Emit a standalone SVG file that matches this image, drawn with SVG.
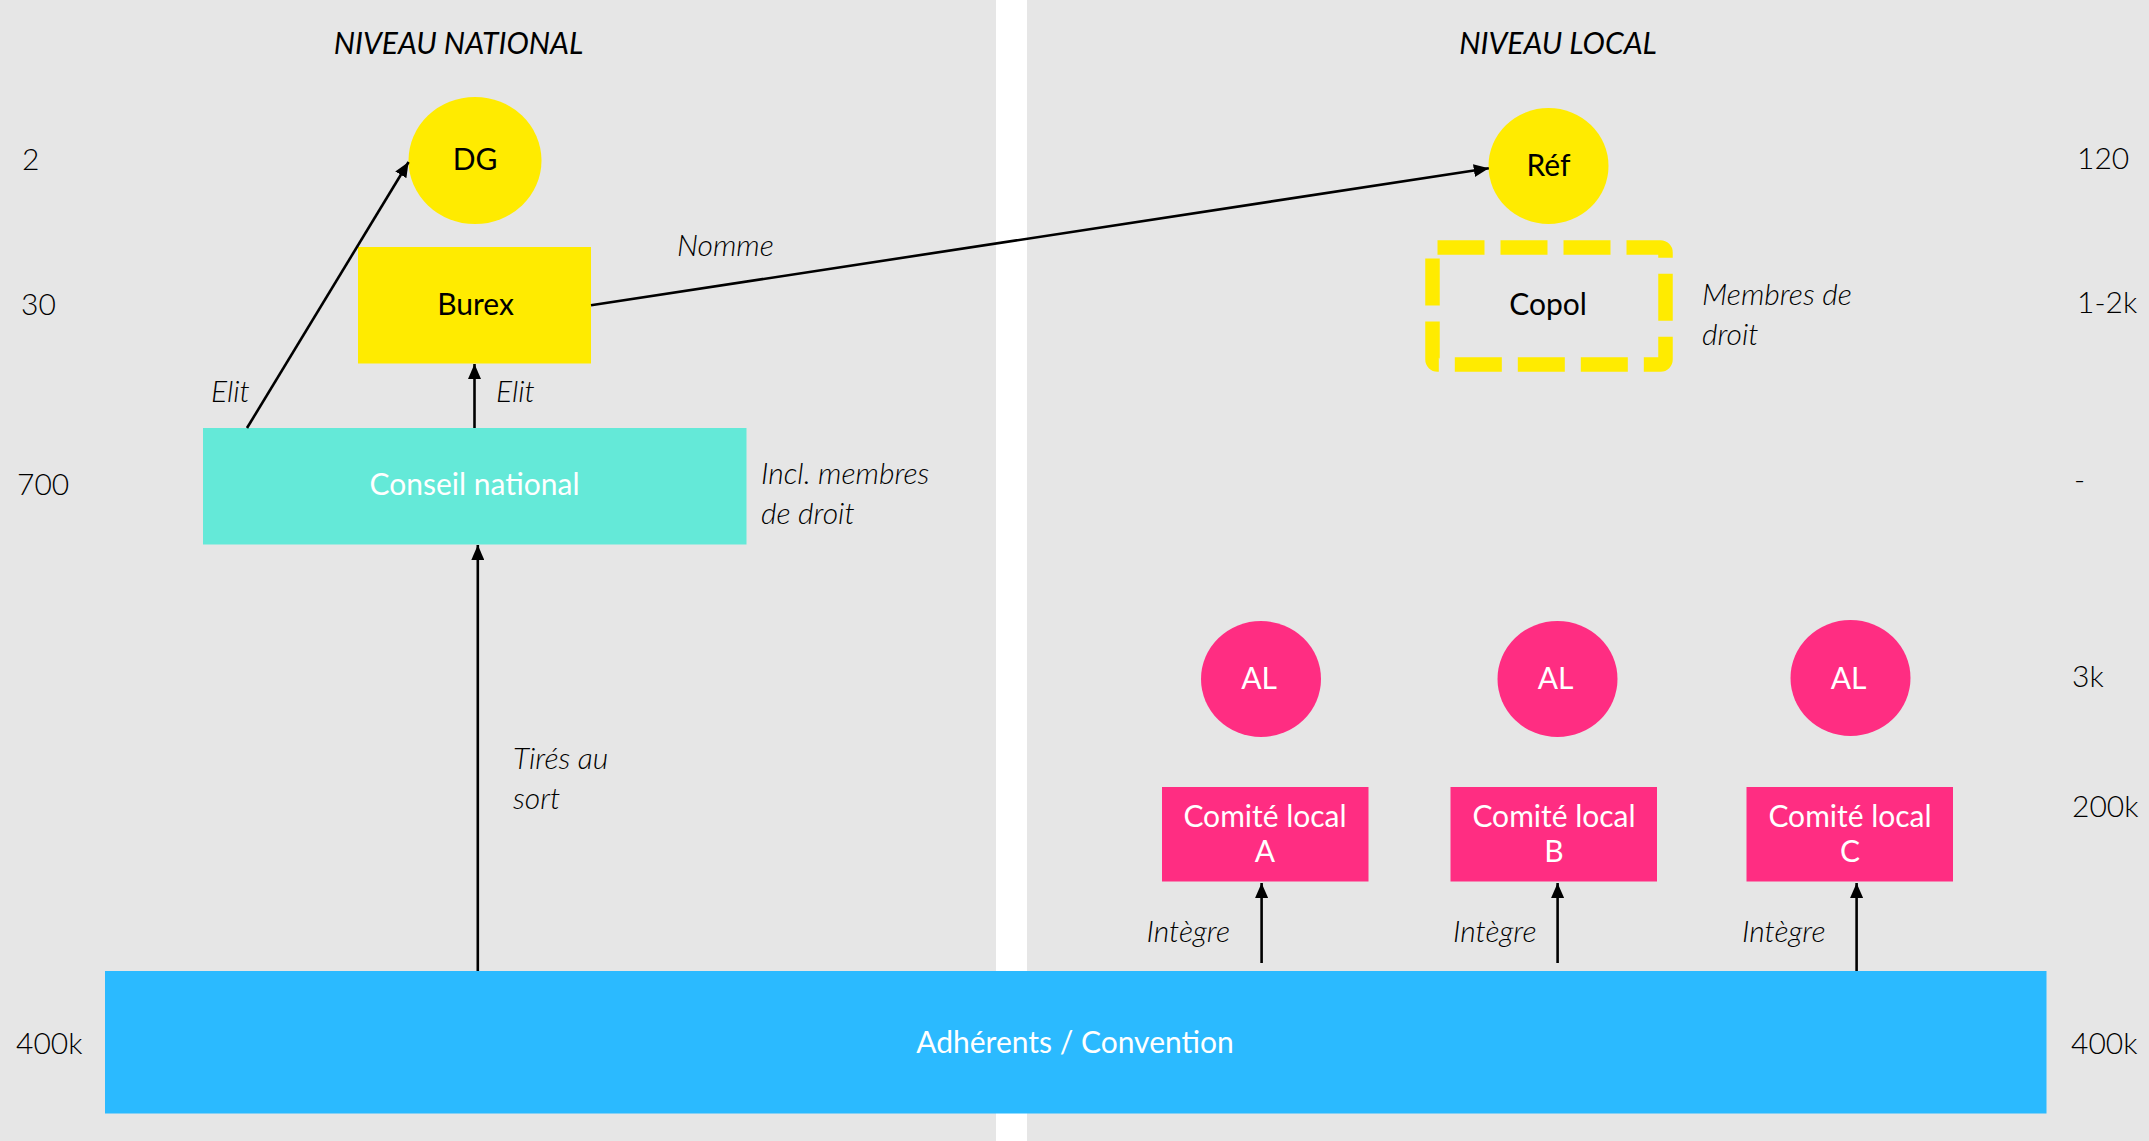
<svg xmlns="http://www.w3.org/2000/svg" width="2149" height="1141" viewBox="0 0 2149 1141">
  <style>
    text { font-family: Lato, "Open Sans", "Liberation Sans", sans-serif; font-size: 30px; fill: #000; }
    .it { font-style: italic; font-weight: 300; }
    .hd { font-style: italic; font-weight: 400; }
    .num { font-weight: 300; }
    .mid { text-anchor: middle; }
    .w { fill: #fff; }
    .conn { stroke: #000; stroke-width: 2.6; fill: none; marker-end: url(#arr); }
  </style>
  <defs>
    <marker id="arr" viewBox="0 0 15 13" refX="15" refY="6.5" markerWidth="15" markerHeight="13" markerUnits="userSpaceOnUse" orient="auto">
      <path d="M0,0 L15,6.5 L0,13 z" fill="#000"/>
    </marker>
  </defs>

  <!-- background panels -->
  <rect x="0" y="0" width="2149" height="1141" fill="#ffffff"/>
  <rect x="0" y="0" width="996" height="1141" fill="#e6e6e6"/>
  <rect x="1027" y="0" width="1122" height="1141" fill="#e6e6e6"/>

  <!-- headers -->
  <text class="hd mid" x="458.5" y="54">NIVEAU NATIONAL</text>
  <text class="hd mid" x="1558" y="54">NIVEAU LOCAL</text>

  <!-- level counts left -->
  <text class="num" x="22" y="170">2</text>
  <text class="num" x="21" y="315">30</text>
  <text class="num" x="17" y="495">700</text>
  <text class="num" x="16" y="1054">400k</text>

  <!-- level counts right -->
  <text class="num" x="2077" y="169">120</text>
  <text class="num" x="2077" y="313">1-2k</text>
  <text class="num" x="2074" y="490">-</text>
  <text class="num" x="2072" y="687">3k</text>
  <text class="num" x="2072" y="817">200k</text>
  <text class="num" x="2071" y="1054">400k</text>

  <!-- nodes -->
  <g id="dg">
    <ellipse cx="475" cy="160.5" rx="66.5" ry="63.5" fill="#ffeb00"/>
    <text class="mid" x="475" y="170">DG</text>
  </g>
  <g id="burex">
    <rect x="358" y="247" width="233" height="116.5" fill="#ffeb00"/>
    <text class="mid" x="475.5" y="315">Burex</text>
  </g>
  <g id="conseil-national">
    <rect x="203" y="428" width="543.5" height="116.5" fill="#64e9d8"/>
    <text class="mid w" x="474.5" y="495">Conseil national</text>
  </g>
  <g id="ref">
    <ellipse cx="1548.5" cy="166" rx="60" ry="58" fill="#ffeb00"/>
    <text class="mid" x="1548.5" y="176">Réf</text>
  </g>
  <g id="copol">
    <rect x="1432.5" y="247.5" width="233" height="117" rx="5" ry="5" fill="none" stroke="#ffeb00" stroke-width="14.5" stroke-dasharray="47 16"/>
    <text class="mid" x="1548" y="315">Copol</text>
  </g>
  <g id="al-a">
    <ellipse cx="1261" cy="679" rx="60" ry="58" fill="#ff2d82"/>
    <text class="mid w" x="1259" y="689">AL</text>
  </g>
  <g id="al-b">
    <ellipse cx="1557.5" cy="679" rx="60" ry="58" fill="#ff2d82"/>
    <text class="mid w" x="1555.5" y="689">AL</text>
  </g>
  <g id="al-c">
    <ellipse cx="1850.5" cy="678" rx="60" ry="58" fill="#ff2d82"/>
    <text class="mid w" x="1848.5" y="689">AL</text>
  </g>
  <g id="comite-a">
    <rect x="1162" y="787" width="206.5" height="94.5" fill="#ff2d82"/>
    <text class="mid w" x="1265" y="826.5">Comité local</text>
    <text class="mid w" x="1265" y="861.5">A</text>
  </g>
  <g id="comite-b">
    <rect x="1450.5" y="787" width="206.5" height="94.5" fill="#ff2d82"/>
    <text class="mid w" x="1554" y="826.5">Comité local</text>
    <text class="mid w" x="1554" y="861.5">B</text>
  </g>
  <g id="comite-c">
    <rect x="1746.5" y="787" width="206.5" height="94.5" fill="#ff2d82"/>
    <text class="mid w" x="1850" y="826.5">Comité local</text>
    <text class="mid w" x="1850" y="861.5">C</text>
  </g>
  <g id="adherents">
    <rect x="105" y="971" width="1941.5" height="142.5" fill="#2bbaff"/>
    <text class="mid w" x="1075" y="1052.5">Adhérents / Convention</text>
  </g>

  <!-- connectors -->
  <g id="connectors">
    <line class="conn" x1="247" y1="428" x2="408.6" y2="162"/>
    <line class="conn" x1="474.5" y1="428" x2="474.5" y2="364"/>
    <line class="conn" x1="591" y1="305.3" x2="1488.8" y2="168.3"/>
    <line class="conn" x1="477.8" y1="971" x2="477.8" y2="545"/>
    <line class="conn" x1="1261.6" y1="963" x2="1261.6" y2="883"/>
    <line class="conn" x1="1557.6" y1="963" x2="1557.6" y2="883"/>
    <line class="conn" x1="1856.6" y1="971" x2="1856.6" y2="883"/>
  </g>

  <!-- connector / side labels -->
  <text class="it" x="211" y="401.5">Elit</text>
  <text class="it" x="496" y="401.5">Elit</text>
  <text class="it" x="677" y="256">Nomme</text>
  <text class="it" x="761" y="483.5">Incl. membres</text>
  <text class="it" x="761" y="523.5">de droit</text>
  <text class="it" x="1702" y="305">Membres de</text>
  <text class="it" x="1702" y="345">droit</text>
  <text class="it" x="513" y="768.5">Tirés au</text>
  <text class="it" x="513" y="808.5">sort</text>
  <text class="it" x="1146.5" y="942">Intègre</text>
  <text class="it" x="1453" y="942">Intègre</text>
  <text class="it" x="1742" y="942">Intègre</text>
</svg>
